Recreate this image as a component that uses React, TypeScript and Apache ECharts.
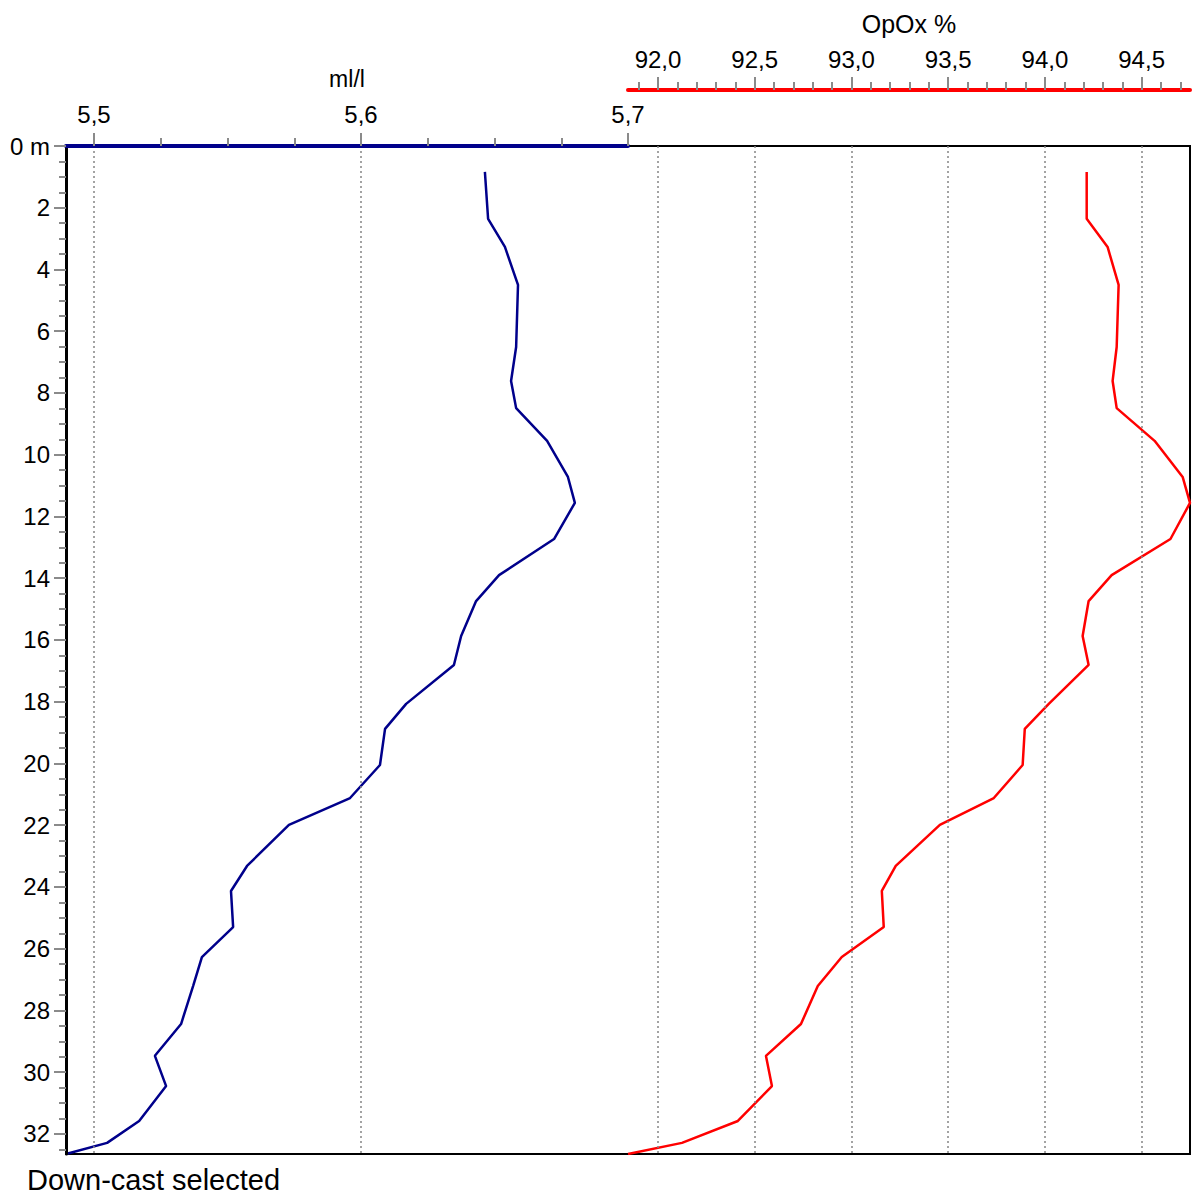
import React, { useEffect, useRef } from 'react';
import * as echarts from 'echarts';

// Depth of each sample (m)
const DEPTH = [0.84, 2.36, 3.27, 4.5, 6.51, 7.61, 8.49, 9.55, 10.72, 11.56, 12.73, 13.9, 14.74, 15.87, 16.81, 18.07, 18.88, 20.05, 21.12, 21.99, 23.32, 24.13, 25.3, 26.27, 27.21, 28.44, 29.47, 30.45, 31.58, 32.29, 32.65];
// Oxygen, ml/l
const OXY_ML = [5.6464, 5.6476, 5.6539, 5.6588, 5.6581, 5.6562, 5.6581, 5.6697, 5.6775, 5.6801, 5.6723, 5.6517, 5.6431, 5.6375, 5.6348, 5.6169, 5.609, 5.6071, 5.5959, 5.573, 5.5573, 5.5513, 5.5521, 5.5404, 5.5371, 5.5326, 5.5228, 5.527, 5.5169, 5.5049, 5.4895];
// Oxygen saturation, OpOx %
const OPOX = [94.216, 94.216, 94.324, 94.381, 94.371, 94.35, 94.371, 94.567, 94.712, 94.75, 94.649, 94.345, 94.226, 94.195, 94.226, 94.02, 93.896, 93.885, 93.736, 93.457, 93.229, 93.157, 93.167, 92.95, 92.826, 92.739, 92.558, 92.589, 92.413, 92.124, 91.845];

const ML_TICKS = [5.5, 5.6, 5.7];
const ML_MINOR = [5.525, 5.55, 5.575, 5.625, 5.65, 5.675];
const ML_GRIDLINES = [5.5, 5.6];
const OPOX_TICKS = [92.0, 92.5, 93.0, 93.5, 94.0, 94.5];
const OPOX_MINOR = [91.9, 92.1, 92.2, 92.3, 92.4, 92.6, 92.7, 92.8, 92.9, 93.1, 93.2, 93.3, 93.4, 93.6, 93.7, 93.8, 93.9, 94.1, 94.2, 94.3, 94.4, 94.6, 94.7];
const DEPTH_TICKS = [0, 2, 4, 6, 8, 10, 12, 14, 16, 18, 20, 22, 24, 26, 28, 30, 32];
const DEPTH_MINOR = [0.5, 1, 1.5, 2.5, 3, 3.5, 4.5, 5, 5.5, 6.5, 7, 7.5, 8.5, 9, 9.5, 10.5, 11, 11.5, 12.5, 13, 13.5, 14.5, 15, 15.5, 16.5, 17, 17.5, 18.5, 19, 19.5, 20.5, 21, 21.5, 22.5, 23, 23.5, 24.5, 25, 25.5, 26.5, 27, 27.5, 28.5, 29, 29.5, 30.5, 31, 31.5, 32.5];

const ML_MIN = 5.4895;
const ML_MAX = 5.7;
const OPOX_MIN = 91.845;
const OPOX_MAX = 94.75;
const DEPTH_MAX = 32.65;

const FONT = "'Liberation Sans', Arial, sans-serif";
const TICK_COLOR = '#8a8a8a';
const BLUE = '#00008B';
const RED = '#FF0000';

const fmt1 = (v: number) => v.toFixed(1).replace('.', ',');

export default function App() {
  const ref = useRef<HTMLDivElement>(null);
  useEffect(() => {
    if (!ref.current) return;
    const chart = echarts.init(ref.current, undefined, { renderer: 'svg' });
    const labelStyle = { fontSize: 24, color: '#000', fontFamily: FONT };
    const topAxis = (grid: number, min: number, max: number, offset: number, color: string, ticks: number[], name: string, nameGap: number, nameSize: number, margin: number) => ({
      gridIndex: grid, type: 'value', position: 'top', min, max, offset, z: 5,
      axisLine: { show: true, onZero: false, lineStyle: { color, width: 4 } },
      axisTick: { show: true, customValues: ticks, length: 13, lineStyle: { color: TICK_COLOR, width: 2 } },
      axisLabel: { show: true, customValues: ticks, formatter: fmt1, margin, ...labelStyle },
      splitLine: { show: false },
      name, nameLocation: 'middle', nameGap,
      nameTextStyle: { fontSize: nameSize, color: '#000', fontFamily: FONT },
    });
    const minorAxis = (grid: number, min: number, max: number, offset: number, ticks: number[]) => ({
      gridIndex: grid, type: 'value', position: 'top', min, max, offset, z: 5,
      axisLine: { show: false, onZero: false },
      axisTick: { show: true, customValues: ticks, length: 8, lineStyle: { color: TICK_COLOR, width: 2 } },
      axisLabel: { show: false },
      splitLine: { show: false },
    });
    const gridLines = (vals: number[]) => ({
      silent: true, symbol: 'none', label: { show: false },
      lineStyle: { color: '#858585', type: [2, 3], width: 1.5 },
      data: vals.map((v) => ({ xAxis: v })),
    });
    chart.setOption({
      animation: false,
      backgroundColor: '#fff',
      grid: [
        { left: 66, top: 146, width: 562, height: 1008, outerBoundsMode: 'none' },
        { left: 628, top: 146, width: 562, height: 1008, outerBoundsMode: 'none' },
      ],
      xAxis: [
        topAxis(0, ML_MIN, ML_MAX, 0, BLUE, ML_TICKS, 'ml/l', 56, 23, 20),
        minorAxis(0, ML_MIN, ML_MAX, 0, ML_MINOR),
        topAxis(1, OPOX_MIN, OPOX_MAX, 56, RED, OPOX_TICKS, 'OpOx %', 54, 25, 19),
        minorAxis(1, OPOX_MIN, OPOX_MAX, 56, OPOX_MINOR),
      ],
      yAxis: [
        {
          gridIndex: 0, type: 'value', position: 'left', inverse: true, min: 0, max: DEPTH_MAX, z: 5,
          axisLine: { show: true, onZero: false, lineStyle: { color: '#000', width: 3 } },
          axisTick: { show: true, customValues: DEPTH_TICKS, length: 12, lineStyle: { color: TICK_COLOR, width: 2 } },
          axisLabel: {
            show: true, customValues: DEPTH_TICKS, margin: 16, ...labelStyle,
            formatter: (v: number) => (v === 0 ? '0 m' : String(v)),
          },
          splitLine: { show: false },
        },
        {
          gridIndex: 0, type: 'value', position: 'left', inverse: true, min: 0, max: DEPTH_MAX, z: 5,
          axisLine: { show: false, onZero: false },
          axisTick: { show: true, customValues: DEPTH_MINOR, length: 7, lineStyle: { color: TICK_COLOR, width: 2 } },
          axisLabel: { show: false },
          splitLine: { show: false },
        },
        {
          gridIndex: 1, type: 'value', position: 'left', inverse: true, min: 0, max: DEPTH_MAX, show: false,
          axisLine: { onZero: false }, splitLine: { show: false },
        },
      ],
      series: [
        {
          type: 'line', xAxisIndex: 0, yAxisIndex: 0, z: 3,
          data: DEPTH.map((d, i) => [OXY_ML[i], d]),
          showSymbol: false, symbol: 'none',
          lineStyle: { color: BLUE, width: 2.5 },
          itemStyle: { color: BLUE },
          markLine: gridLines(ML_GRIDLINES),
        },
        {
          type: 'line', xAxisIndex: 2, yAxisIndex: 2, z: 3,
          data: DEPTH.map((d, i) => [OPOX[i], d]),
          showSymbol: false, symbol: 'none',
          lineStyle: { color: RED, width: 2.5 },
          itemStyle: { color: RED },
          markLine: gridLines(OPOX_TICKS),
        },
      ],
      graphic: [
        {
          type: 'rect', z: 1, silent: true,
          shape: { x: 66, y: 146, width: 1124, height: 1008 },
          style: { fill: 'none', stroke: '#000', lineWidth: 2 },
        },
        {
          type: 'text', x: 27, y: 1180, z: 5,
          style: { text: 'Down-cast selected', fontSize: 29, fontFamily: FONT, fill: '#000', align: 'left', verticalAlign: 'middle' },
        },
      ],
    });
    return () => chart.dispose();
  }, []);
  return <div ref={ref} style={{ position: 'absolute', left: 0, top: 0, width: 1192, height: 1198 }} />;
}
